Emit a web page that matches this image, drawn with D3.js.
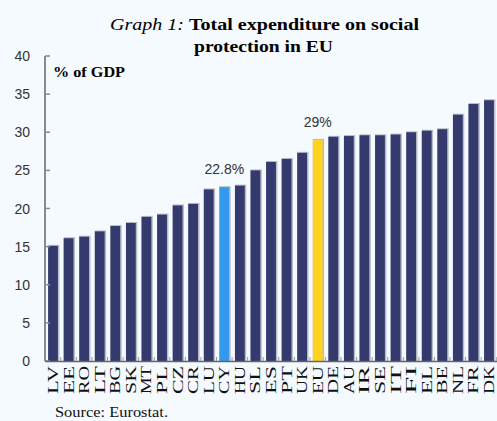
<!DOCTYPE html>
<html>
<head>
<meta charset="utf-8">
<script src="https://cdn.jsdelivr.net/npm/d3@7"></script>
<style>
  body { margin: 0; background: #f5faff; }
  svg { display: block; }
</style>
</head>
<body>
<svg class="chart"></svg>
<script>
const categories = ["LV", "EE", "RO", "LT", "BG", "SK", "MT", "PL", "CZ", "CR", "LU", "CY", "HU",
  "SL", "ES", "PT", "UK", "EU", "DE", "AU", "IR", "SE", "IT", "FI", "EL", "BE", "NL", "FR", "DK"];
const values = [15.1, 16.1, 16.3, 17.0, 17.7, 18.1, 18.9, 19.2, 20.4, 20.6, 22.5, 22.8, 23.0,
  25.0, 26.1, 26.5, 27.3, 29.0, 29.4, 29.5, 29.6, 29.6, 29.7, 30.0, 30.2, 30.4, 32.3, 33.7, 34.2];
const yTicks = [0, 5, 10, 15, 20, 25, 30, 35, 40];
const highlights = {CY: "22.8%", EU: "29%"};

const width = 497;
const height = 421;
const margin = {top: 56, right: 0, bottom: 60, left: 45};

const data = categories.map((c, i) => ({name: c, value: values[i]}));

const svg = d3.select(".chart")
    .attr("width", width)
    .attr("height", height);

const x = d3.scaleBand()
    .domain(categories)
    .range([margin.left, width - margin.right])
    .paddingInner(0.37)
    .paddingOuter(0.2);

const y = d3.scaleLinear()
    .domain([0, 40])
    .range([height - margin.bottom, margin.top]);

const barColor = (d) => {
  if (d.name === "CY") return "#3399ee";
  if (d.name === "EU") return "#ffd21f";
  return "#343a6e";
};

// title (the original is a little stretched, so fit to measured widths)
const title = svg.append("text")
    .attr("x", 110)
    .attr("y", 30)
    .attr("textLength", 309)
    .attr("lengthAdjust", "spacingAndGlyphs")
    .style("font-family", "Liberation Serif")
    .style("font-size", "17px");
title.append("tspan").style("font-style", "italic").text("Graph 1: ");
title.append("tspan").style("font-weight", "bold").text("Total expenditure on social");

svg.append("text")
    .attr("x", 194)
    .attr("y", 52)
    .attr("textLength", 139)
    .attr("lengthAdjust", "spacingAndGlyphs")
    .style("font-family", "Liberation Serif")
    .style("font-size", "17px")
    .style("font-weight", "bold")
    .text("protection in EU");

// bars: light shadow then fill
const bar = svg.selectAll(".bar")
    .data(data)
  .enter().append("g")
    .attr("class", "bar");

bar.append("rect")
    .attr("x", (d) => x(d.name))
    .attr("y", (d) => y(d.value) - 1)
    .attr("width", x.bandwidth() + 1.5)
    .attr("height", (d) => y(0) - y(d.value) + 1)
    .attr("fill", "#b8bcc8");

bar.append("rect")
    .attr("x", (d) => x(d.name))
    .attr("y", (d) => y(d.value))
    .attr("width", x.bandwidth())
    .attr("height", (d) => y(0) - y(d.value))
    .attr("fill", barColor);

// value labels for highlighted bars
bar.filter((d) => highlights[d.name])
  .append("text")
    .attr("x", (d) => x(d.name) + x.bandwidth() / 2)
    .attr("y", (d) => y(d.value) - 13)
    .attr("text-anchor", "middle")
    .style("font-family", "Liberation Sans")
    .style("font-size", "14px")
    .attr("fill", "#333")
    .text((d) => highlights[d.name]);

// y axis
const yAxis = svg.append("g")
    .attr("transform", `translate(${ margin.left },0)`);
yAxis.append("line")
    .attr("y1", y(40))
    .attr("y2", y(0))
    .attr("stroke", "#8a8a8a")
    .attr("stroke-width", 2);
yAxis.selectAll(".tick")
    .data(yTicks)
  .enter().append("line")
    .attr("x1", 0)
    .attr("x2", 5)
    .attr("y1", (d) => y(d))
    .attr("y2", (d) => y(d))
    .attr("stroke", "#8a8a8a")
    .attr("stroke-width", 1.5);
yAxis.selectAll(".lbl")
    .data(yTicks)
  .enter().append("text")
    .attr("x", -15)
    .attr("y", (d) => y(d) + 5)
    .attr("text-anchor", "end")
    .style("font-family", "Liberation Sans")
    .style("font-size", "14px")
    .attr("fill", "#333")
    .text((d) => d);

svg.append("text")
    .attr("x", 53)
    .attr("y", 77)
    .attr("textLength", 72)
    .attr("lengthAdjust", "spacingAndGlyphs")
    .style("font-family", "Liberation Serif")
    .style("font-size", "14px")
    .style("font-weight", "bold")
    .text("% of GDP");

// x axis
const step = x.step();
svg.append("line")
    .attr("x1", margin.left)
    .attr("x2", width)
    .attr("y1", y(0) + 0.5)
    .attr("y2", y(0) + 0.5)
    .attr("stroke", "#666")
    .attr("stroke-width", 1.5);
svg.selectAll(".xtick")
    .data(categories)
  .enter().append("line")
    .attr("x1", (d) => x(d) + x.bandwidth() + (step - x.bandwidth()) / 2)
    .attr("x2", (d) => x(d) + x.bandwidth() + (step - x.bandwidth()) / 2)
    .attr("y1", y(0))
    .attr("y2", y(0) - 4)
    .attr("stroke", "#999")
    .attr("stroke-width", 1);

svg.selectAll(".xlbl")
    .data(categories)
  .enter().append("text")
    .attr("transform", (d) => `translate(${ x(d) + x.bandwidth() / 2 + 5 },${ y(0) + 5 }) rotate(-90)`)
    .attr("text-anchor", "end")
    .attr("textLength", 28)
    .attr("lengthAdjust", "spacingAndGlyphs")
    .style("font-family", "Liberation Serif")
    .style("font-size", "14px")
    .attr("fill", "#111")
    .text((d) => d);

svg.append("text")
    .attr("x", 55)
    .attr("y", 417)
    .attr("textLength", 113)
    .attr("lengthAdjust", "spacingAndGlyphs")
    .style("font-family", "Liberation Serif")
    .style("font-size", "14px")
    .attr("fill", "#111")
    .text("Source: Eurostat.");
</script>
</body>
</html>
